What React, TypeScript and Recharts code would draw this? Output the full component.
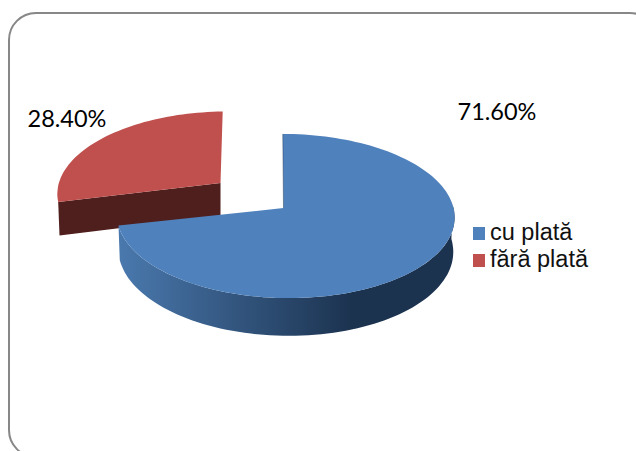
import { PieChart, Pie, Legend } from "recharts";

const categories = ["cu plată", "fără plată"];
const percents = [71.6, 28.4];
const colors = ["#4f81bd", "#c0504d"];

// the small slice has to be painted first, the big one overlaps its cut face
const drawOrder = [1, 0];
const pieData = drawOrder.map((i) => ({ name: categories[i], value: percents[i], fill: colors[i] }));
const startAt = 90 - (360 * percents[0]) / 100;

const W = 636;
const H = 451;
const RAD = Math.PI / 180;

// fake 3D view of the flat pie
const SQUASH = 0.484;
const PERSPECTIVE = 0.0976;
const DEPTH = 34;

const project = (a: number, r: number, v: any, lift = 0) => {
  const c = Math.cos(a * RAD);
  const s = -Math.sin(a * RAD);
  const w = 1 - PERSPECTIVE * s;
  const shrink = lift ? 0.992 : 1;
  const rim = r > 0 ? 1 : 0;
  return [
    v.cx + v.dx + rim * v.shift + (v.scale * shrink * (r * c - rim * v.skew * s)) / w,
    v.cy + v.dy + (v.scale * (r * SQUASH * s + rim * v.tilt * c + lift)) / w,
  ];
};

const arc = (from: number, to: number, r: number, v: any, lift = 0) => {
  const pts = [];
  const n = Math.max(8, Math.ceil(Math.abs(to - from) / 2));
  for (let i = 0; i <= n; i++) {
    pts.push(project(from + ((to - from) * i) / n, r, v, lift));
  }
  return pts;
};

const toPath = (pts: number[][]) =>
  "M" + pts.map((p) => p[0].toFixed(1) + " " + p[1].toFixed(1)).join("L") + "Z";

function Slice3D(props: any) {
  const { cx, cy, outerRadius: r, startAngle, endAngle, fill, name } = props;
  const exploded = name === categories[1];
  const v = exploded
    ? { cx, cy, dx: -63, dy: -25, scale: 0.965, skew: 2.5, tilt: -2, shift: 0 }
    : { cx, cy, dx: 0, dy: 0, scale: 1, skew: -3, tilt: 0, shift: 2 };
  const top = arc(startAngle, endAngle, r, v);
  const apex = project(0, 0, v);

  if (exploded) {
    const end = project(startAngle, r, v);
    const endLow = project(startAngle, r, v, DEPTH);
    const apexLow = project(0, 0, v, DEPTH);
    return (
      <g>
        <path d={toPath([apex, end, endLow, apexLow])} fill="#4f1f1d" />
        <path d={toPath([apex, ...top])} fill={fill} />
      </g>
    );
  }

  // outer wall is only seen from the right-most point round to the cut
  const wallFrom = startAngle - 88;
  const upper = arc(wallFrom, endAngle, r, v);
  const lower = arc(endAngle, wallFrom, r, v, DEPTH);
  const startEdge = project(startAngle, r, v);
  return (
    <g>
      <defs>
        <linearGradient id="blueWall" x1="0" y1="0" x2="1" y2="0">
          <stop offset="0%" stopColor="#4a79ae" />
          <stop offset="69%" stopColor="#1c3350" />
          <stop offset="100%" stopColor="#1c3350" />
        </linearGradient>
      </defs>
      <path d={toPath([...upper, ...lower])} fill="url(#blueWall)" />
      <path d={toPath([apex, ...top])} fill={fill} />
      <path
        d={"M" + apex[0] + " " + apex[1] + "L" + startEdge[0] + " " + startEdge[1]}
        stroke="#1c3350"
        strokeOpacity={0.45}
        strokeWidth={1}
      />
    </g>
  );
}

const renderLabel = (props: any) => {
  const isBig = props.name === categories[0];
  return (
    <text
      x={isBig ? 497 : 67}
      y={isBig ? 120 : 127}
      textAnchor="middle"
      fontFamily="Lato"
      fontSize={23.5}
      fill="#000"
    >
      {props.value.toFixed(2) + "%"}
    </text>
  );
};

const renderLegend = () => (
  <div style={{ fontFamily: "'Liberation Sans'", fontSize: 23.5, color: "#111", lineHeight: "27px" }}>
    {categories.map((c, i) => (
      <div key={c} style={{ display: "flex", alignItems: "center", whiteSpace: "nowrap" }}>
        <span style={{ width: 12, height: 13, background: colors[i], marginRight: 5, marginTop: 1 }} />
        <span>{c}</span>
      </div>
    ))}
  </div>
);

export default function App() {
  return (
    <div style={{ position: "absolute", left: 0, top: 0, width: W, height: H, overflow: "hidden", background: "#fff" }}>
      <div
        style={{
          position: "absolute",
          left: 8,
          top: 12,
          width: 650,
          height: 446,
          boxSizing: "border-box",
          border: "2px solid #878787",
          borderRadius: 28,
        }}
      />
      <PieChart
        width={W}
        height={H}
        margin={{ top: 0, right: 0, bottom: 0, left: 0 }}
        style={{ position: "absolute", left: 0, top: 0 }}
      >
        <Pie
          data={pieData}
          dataKey="value"
          nameKey="name"
          cx={283.5}
          cy={208}
          outerRadius={168}
          startAngle={startAt}
          endAngle={startAt - 360}
          stroke="none"
          shape={Slice3D}
          label={renderLabel}
          labelLine={false}
          isAnimationActive={false}
        />
        <Legend
          content={renderLegend}
          layout="vertical"
          wrapperStyle={{ position: "absolute", left: 473, top: 219, width: 150, bottom: "auto" }}
        />
      </PieChart>
    </div>
  );
}
